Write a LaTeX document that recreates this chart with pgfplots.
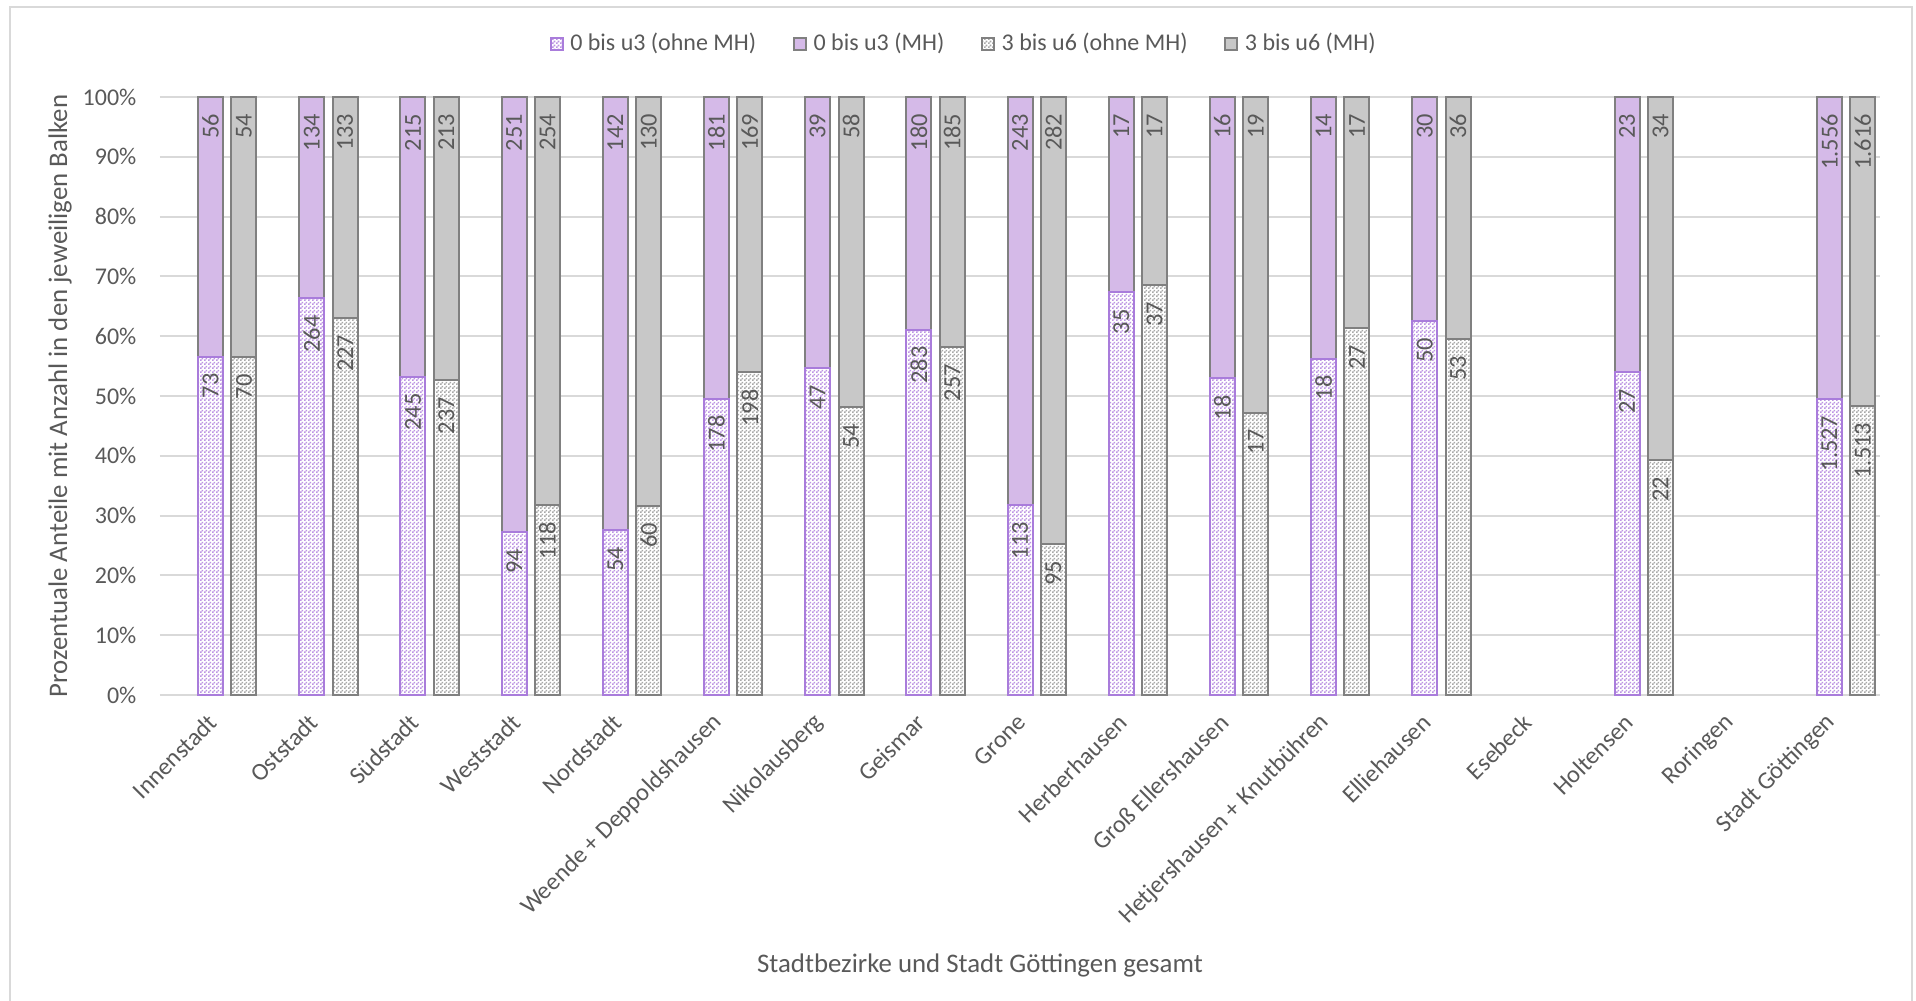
\documentclass[border=0pt]{standalone}
\usepackage{pgfplots}
\pgfplotsset{compat=1.18}
\usepackage{pgfplotstable}
\usepackage{fontspec}
\setmainfont{Carlito}
\usetikzlibrary{patterns}
\definecolor{lila}{RGB}{213,186,232}
\definecolor{lilapat}{RGB}{188,148,226}
\definecolor{lilaedge}{RGB}{169,124,219}
\definecolor{grau}{RGB}{200,200,200}
\definecolor{graupat}{RGB}{168,168,168}
\definecolor{grauedge}{RGB}{128,128,128}
\definecolor{txt}{RGB}{89,89,89}
\definecolor{gridc}{RGB}{217,217,217}
\pgfdeclarepatternformonly{finecheck}{\pgfpointorigin}{\pgfpoint{1.2pt}{1.2pt}}{\pgfpoint{1.2pt}{1.2pt}}{%
  \pgfpathrectangle{\pgfpointorigin}{\pgfpoint{0.6pt}{0.6pt}}%
  \pgfpathrectangle{\pgfpoint{0.6pt}{0.6pt}}{\pgfpoint{0.6pt}{0.6pt}}%
  \pgfusepath{fill}}
\tikzset{
  sOU3/.style={draw=lilaedge, line width=0.6pt, preaction={fill=white}, pattern=finecheck, pattern color=lilapat},
  sMU3/.style={draw=grauedge, line width=0.6pt, fill=lila},
  sOU6/.style={draw=grauedge, line width=0.6pt, preaction={fill=white}, pattern=finecheck, pattern color=graupat},
  sMU6/.style={draw=grauedge, line width=0.6pt, fill=grau},
}
% x: category index; po/no: ohne MH percent/count; pm/nm: MH percent/count
\pgfplotstableread{
x  po    no     pm    nm
0  56.59 73     43.41 56
1  66.33 264    33.67 134
2  53.26 245    46.74 215
3  27.25 94     72.75 251
4  27.55 54     72.45 142
5  49.58 178    50.42 181
6  54.65 47     45.35 39
7  61.12 283    38.88 180
8  31.74 113    68.26 243
9  67.31 35     32.69 17
10 52.94 18     47.06 16
11 56.25 18     43.75 14
12 62.50 50     37.50 30
14 54.00 27     46.00 23
16 49.53 1.527  50.47 1.556
}\uthree
\pgfplotstableread{
x  po    no     pm    nm
0  56.45 70     43.55 54
1  63.06 227    36.94 133
2  52.67 237    47.33 213
3  31.72 118    68.28 254
4  31.58 60     68.42 130
5  53.95 198    46.05 169
6  48.21 54     51.79 58
7  58.14 257    41.86 185
8  25.20 95     74.80 282
9  68.52 37     31.48 17
10 47.22 17     52.78 19
11 61.36 27     38.64 17
12 59.55 53     40.45 36
14 39.29 22     60.71 34
16 48.35 1.513  51.65 1.616
}\usix
\pgfplotsset{
  base/.style={
    at={(0pt,0pt)}, anchor=south west, scale only axis,
    width=516pt, height=179.4pt,
    xmin=-0.5, xmax=16.5, ymin=0, ymax=100,
    ybar stacked, bar width=0.247,
    nodes near coords, point meta=explicit symbolic,
    visualization depends on={rawy \as \segv},
    every node near coord/.append style={yshift={\segv*0.897pt-4.8pt}, rotate=90, anchor=east, inner sep=0pt, font=\fontsize{7.3}{8.7}\selectfont, text=txt},
    clip=false,
  },
}
\begin{document}
\begin{tikzpicture}[font=\fontsize{7.2}{8.6}\selectfont]
\useasboundingbox (-48pt,-91.5pt) rectangle (526.8pt,208.5pt);
\draw[gridc, line width=0.6pt] (-45pt,-92pt) rectangle (525.6pt,206.5pt);
\begin{axis}[base,
  axis line style={draw=none},
  major tick length=0pt,
  ymajorgrids, grid style={gridc, line width=0.6pt},
  ytick={0,10,...,100},
  yticklabels={0\%,10\%,20\%,30\%,40\%,50\%,60\%,70\%,80\%,90\%,100\%},
  yticklabel style={anchor=east, inner sep=0pt, xshift=-6.9pt, text=txt},
  xtick={0,...,16},
  xticklabels={Innenstadt,Oststadt,Südstadt,Weststadt,Nordstadt,Weende + Deppoldshausen,Nikolausberg,Geismar,Grone,Herberhausen,Groß Ellershausen,Hetjershausen + Knutbühren,Elliehausen,Esebeck,Holtensen,Roringen,Stadt Göttingen},
  xticklabel style={xshift=0.7pt, yshift=-6.9pt, rotate=45, anchor=east, inner sep=0pt, text=txt, font=\fontsize{7.35}{8.8}\selectfont},
  ylabel={Prozentuale Anteile mit Anzahl in den jeweiligen Balken},
  ylabel style={at={(axis description cs:-0.0581,0.5)}, anchor=center, text=txt, font=\fontsize{8.05}{9.6}\selectfont},
  xlabel={Stadtbezirke und Stadt Göttingen gesamt},
  xlabel style={at={(axis description cs:0.4767,-0.4515)}, anchor=center, text=txt, font=\fontsize{8.05}{9.6}\selectfont},
  legend columns=4,
  legend style={at={(axis description cs:0.4686,1.0886)}, anchor=center, draw=none, fill=none, text=txt,
    font=\fontsize{7.2}{8.6}\selectfont,
    /tikz/every even column/.append style={column sep=9pt}},
  legend image code/.code={\draw[#1] (0pt,-1.8pt) rectangle (3.6pt,1.8pt);},
]
\addplot[sOU3] table[x=x, y=po, meta=no] {\uthree};
\addplot[sMU3] table[x=x, y=pm, meta=nm] {\uthree};
\addlegendimage{sOU6}
\addlegendimage{sMU6}
\legend{0 bis u3 (ohne MH), 0 bis u3 (MH), 3 bis u6 (ohne MH), 3 bis u6 (MH)}
\end{axis}
\begin{axis}[base, hide axis]
\addplot[sOU6] table[x expr=\thisrow{x}+0.33, y=po, meta=no] {\usix};
\addplot[sMU6] table[x expr=\thisrow{x}+0.33, y=pm, meta=nm] {\usix};
\end{axis}
\end{tikzpicture}
\end{document}
